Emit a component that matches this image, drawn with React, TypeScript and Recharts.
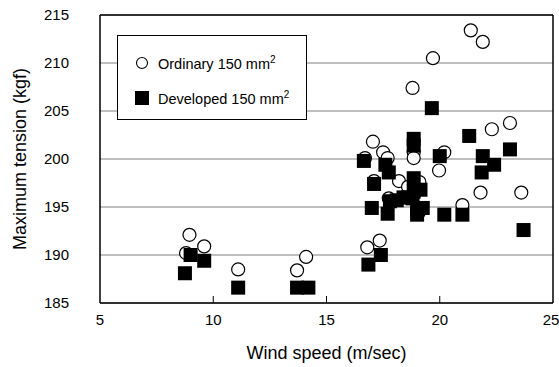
import React from "react";
import {
  CartesianGrid,
  ReferenceLine,
  Scatter,
  ScatterChart,
  XAxis,
  YAxis,
} from "recharts";

// Wind speed (m/sec) and maximum tension (kgf).
const ordinaryWind = [
  8.8, 8.95, 9.6, 11.1, 13.7, 14.1, 16.8, 17.35, 16.7, 17.05, 17.5, 17.7, 17.1,
  17.75, 18.2, 18.6, 19.1, 18.85, 18.85, 18.8, 19.7, 19.1, 19.97, 20.2, 21.0,
  21.8, 22.3, 23.1, 23.6, 21.37, 21.9,
];
const ordinaryTension = [
  190.2, 192.1, 190.9, 188.5, 188.4, 189.8, 190.8, 191.5, 200.1, 201.8, 200.7,
  200.1, 197.7, 195.9, 197.7, 197.1, 197.6, 200.7, 200.1, 207.4, 210.5, 194.5,
  198.8, 200.7, 195.2, 196.5, 203.1, 203.75, 196.5, 213.4, 212.2,
];

const developedWind = [
  8.75, 9.0, 9.6, 11.1, 13.7, 14.2, 16.85, 17.4, 16.65, 17.6, 17.75, 17.1,
  18.85, 18.85, 18.85, 19.65, 20.0, 19.15, 18.85, 18.6, 18.4, 18.1, 17.8, 18.8,
  17.0, 17.7, 19.0, 19.25, 19.0, 20.2, 21.0, 21.3, 21.9, 22.4, 21.85, 23.1,
  23.7,
];
const developedTension = [
  188.1, 190.0, 189.4, 186.6, 186.6, 186.6, 189.0, 190.0, 199.8, 199.4, 198.6,
  197.4, 198.0, 202.1, 201.4, 205.3, 200.3, 196.8, 196.6, 196.0, 196.0, 195.7,
  195.6, 195.9, 194.9, 194.3, 194.7, 194.9, 194.2, 194.2, 194.2, 202.4, 200.3,
  199.4, 198.6, 201.0, 192.6,
];

const xTicks = [5, 10, 15, 20, 25];
const yTicks = [185, 190, 195, 200, 205, 210, 215];

const ordinary = ordinaryWind.map((x, i) => ({ x, y: ordinaryTension[i] }));
const developed = developedWind.map((x, i) => ({ x, y: developedTension[i] }));

const FONT = "'Liberation Sans', Arial, sans-serif";

const OpenCircle = (p: any) => (
  <circle cx={p.cx} cy={p.cy} r={6.5} fill="#fff" stroke="#000" strokeWidth={1.2} />
);

const FilledSquare = (p: any) => (
  <rect x={p.cx - 7} y={p.cy - 7} width={14} height={14} fill="#000" />
);

// x ticks point inward (upwards) from the axis line
const XTick = (p: any) => {
  const v = p.payload.value;
  const inner = v !== 5 && v !== 25;
  return (
    <g>
      {inner && <line x1={p.x} x2={p.x} y1={p.y - 7} y2={p.y} stroke="#000" />}
      <text x={p.x} y={p.y + 22} textAnchor="middle" fontSize={15} fill="#000" fontFamily={FONT}>
        {v}
      </text>
    </g>
  );
};

const LegendBox = () => (
  <div
    style={{
      position: "absolute",
      left: 117,
      top: 35,
      width: 190,
      height: 85,
      border: "1.5px solid #000",
      background: "#fff",
      fontFamily: FONT,
      fontSize: 14.5,
      color: "#000",
      boxSizing: "border-box",
    }}
  >
    <div style={{ position: "absolute", left: 17, top: 18, display: "flex", alignItems: "center" }}>
      <svg width={14} height={14}>
        <circle cx={7} cy={7} r={5.5} fill="#fff" stroke="#000" strokeWidth={1.1} />
      </svg>
      <span style={{ marginLeft: 9 }}>
        Ordinary 150 mm<sup style={{ fontSize: 10 }}>2</sup>
      </span>
    </div>
    <div style={{ position: "absolute", left: 17, top: 53, display: "flex", alignItems: "center" }}>
      <svg width={14} height={14}>
        <rect x={0} y={0} width={14} height={14} fill="#000" />
      </svg>
      <span style={{ marginLeft: 9 }}>
        Developed 150 mm<sup style={{ fontSize: 10 }}>2</sup>
      </span>
    </div>
  </div>
);

export default function App() {
  return (
    <div style={{ position: "absolute", left: 0, top: 0, width: 559, height: 367, background: "#fff" }}>
      <ScatterChart
        width={559}
        height={367}
        margin={{ top: 15, right: 6, left: 0, bottom: 0 }}
      >
        <CartesianGrid vertical={false} stroke="#808080" strokeWidth={1.2} />
        <XAxis
          type="number"
          dataKey="x"
          domain={[5, 25]}
          ticks={xTicks}
          height={64}
          tickSize={0}
          tickMargin={0}
          stroke="#000"
          strokeWidth={1.5}
          tick={<XTick />}
          label={{
            value: "Wind speed (m/sec)",
            position: "insideBottom",
            offset: 0,
            dy: -8,
            style: { fontSize: 18, fill: "#000", fontFamily: FONT },
          }}
        />
        <YAxis
          type="number"
          dataKey="y"
          domain={[185, 215]}
          ticks={yTicks}
          width={100}
          tickLine={false}
          tickMargin={25}
          stroke="#000"
          strokeWidth={1.5}
          tick={{ fontSize: 15, fill: "#000", fontFamily: FONT }}
          label={{
            value: "Maximum tension (kgf)",
            angle: -90,
            position: "insideLeft",
            offset: 20,
            style: { textAnchor: "middle", fontSize: 18, fill: "#000", fontFamily: FONT },
          }}
        />
        <ReferenceLine y={215} stroke="#000" strokeWidth={1.5} />
        <ReferenceLine x={25} stroke="#000" strokeWidth={1.5} />
        <Scatter data={ordinary} shape={<OpenCircle />} isAnimationActive={false} />
        <Scatter data={developed} shape={<FilledSquare />} isAnimationActive={false} />
      </ScatterChart>
      <LegendBox />
    </div>
  );
}
